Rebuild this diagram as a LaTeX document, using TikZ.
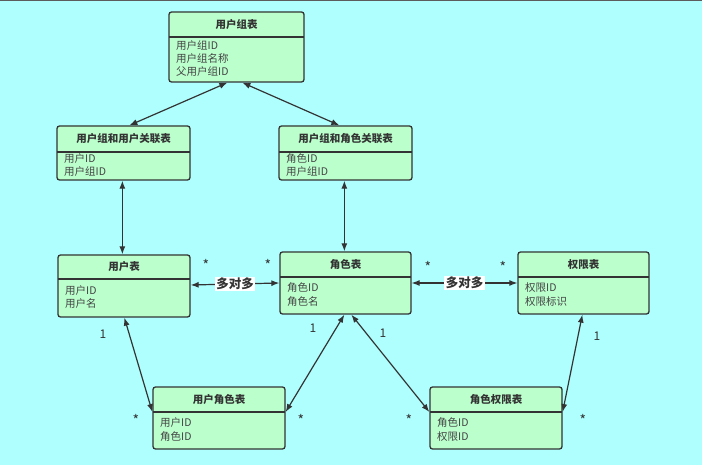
\documentclass[tikz,border=0pt]{standalone}
\usepackage{fontspec}
\setmainfont{Noto Sans CJK SC}
\usetikzlibrary{arrows.meta}
\definecolor{bgc}{HTML}{AFFFFF}
\definecolor{entfill}{HTML}{BBFFCC}
\definecolor{ink}{HTML}{333333}
\definecolor{fieldink}{HTML}{444444}
\tikzset{
  ent/.style={draw=ink, fill=entfill, line width=1.3pt, rounded corners=2.5pt, inner sep=0pt},
  entline/.style={draw=ink, line width=1.3pt},
  ttl/.style={font=\fontsize{10.5}{12}\selectfont\bfseries, text=ink, inner sep=0pt},
  fld/.style={font=\fontsize{10.5}{13.2}\selectfont, text=fieldink, align=left, inner sep=0pt},
  rel/.style={draw=ink, line width=1.2pt, {Latex[length=8pt,width=6pt]}-{Latex[length=8pt,width=6pt]}},
  star/.style={font=\fontsize{14}{14}\selectfont, text=ink, inner sep=0pt},
  mult/.style={font=\fontsize{12}{13}\selectfont, text=ink, inner sep=0pt},
  mlab/.style={font=\fontsize{12.5}{14}\selectfont\bfseries, text=ink, fill=white, inner sep=1.5pt},
}
\newcommand{\entity}[8]{%
  \node[ent, minimum width={#4-#2}, minimum height={#5-#3}] (#1) at ({(#2+#4)/2},{(#3+#5)/2}) {};
  \draw[entline] (#2,#6) -- (#4,#6);
  \node[ttl] (#1-t) at ({(#2+#4)/2},{(#3+#6)/2}) {#7};
  \node[fld, anchor=west] (#1-f) at (#2+7,{(#6+#5)/2-1}) {#8};
}
\begin{document}
\begin{tikzpicture}[x=1pt,y=-1pt]
\fill[bgc] (0,0) rectangle (702,465);
\useasboundingbox (0,0) rectangle (702,465);
\draw[ink!80, line width=0.8pt] (0,0.4) -- (702,0.4);

\entity{ug}{169}{12}{304}{82}{37}{用户组表}{用户组ID\\用户组名称\\父用户组ID}
\entity{ugu}{57}{126}{190}{180}{152}{用户组和用户关联表}{用户ID\\用户组ID}
\entity{ugr}{279}{126}{412}{180}{152}{用户组和角色关联表}{角色ID\\用户组ID}
\entity{user}{58}{255}{190}{317}{279}{用户表}{用户ID\\用户名}
\entity{role}{280}{252}{411}{314}{277}{角色表}{角色ID\\角色名}
\entity{perm}{518}{252}{649}{314}{277}{权限表}{权限ID\\权限标识}
\entity{ur}{153}{387}{285}{449}{412}{用户角色表}{用户ID\\角色ID}
\entity{rp}{430}{387}{562}{449}{412}{角色权限表}{角色ID\\权限ID}

\draw[rel] ([xshift=59pt]ug.south west) -- ([xshift=73pt]ugu.north west);
\draw[rel] ([xshift=74pt]ug.south west) -- ([xshift=61pt]ugr.north west);
\draw[rel] ([xshift=66pt]ugu.south west) -- ([xshift=65pt]user.north west);
\draw[rel] ([xshift=66pt]ugr.south west) -- ([xshift=65pt]role.north west);
\draw[rel] ([yshift=1pt]user.east) -- node[mlab] (m1) {多对多} (role.west);
\draw[rel] (role.east) -- node[mlab] (m2) {多对多} (perm.west);
\draw[rel] ([xshift=67pt]user.south west) -- ([yshift=6pt]ur.west);
\draw[rel] ([xshift=65pt]role.south west) -- ([yshift=6pt]ur.east);
\draw[rel] ([xshift=72pt]role.south west) -- ([yshift=6pt]rp.west);
\draw[rel] ([xshift=65pt]perm.south west) -- ([yshift=6pt]rp.east);

\node[star] (s1) at (206,265) {*};
\node[star] (s2) at (268,265) {*};
\node[star] (s3) at (428,267) {*};
\node[star] (s4) at (503,267) {*};
\node[mult] (o1) at (103,334) {1};
\node[star] (s5) at (136,420) {*};
\node[mult] (o2) at (313,328) {1};
\node[star] (s6) at (301,420) {*};
\node[mult] (o3) at (383,333) {1};
\node[star] (s7) at (409,420) {*};
\node[mult] (o4) at (597,336) {1};
\node[star] (s8) at (583,420) {*};
\end{tikzpicture}
\end{document}
